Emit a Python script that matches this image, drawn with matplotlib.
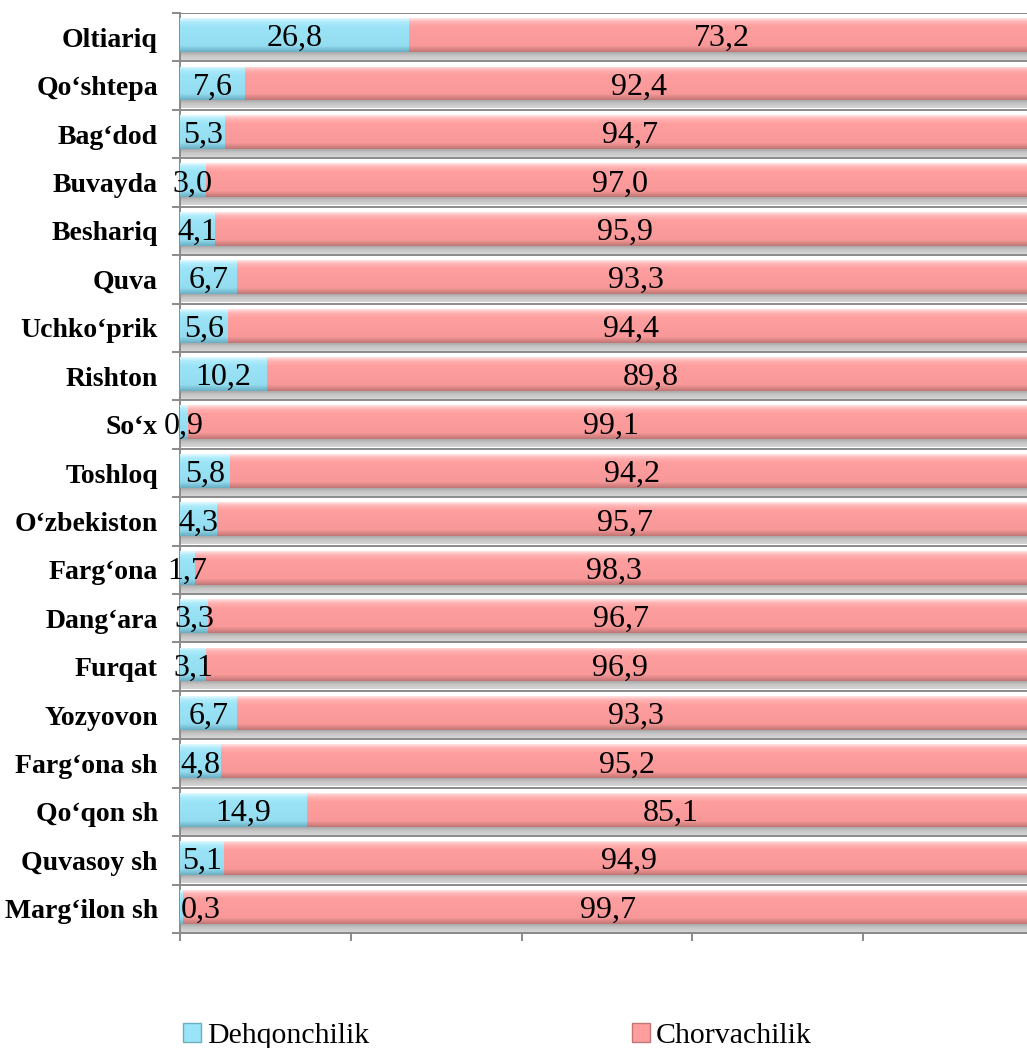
import matplotlib.pyplot as plt
import numpy as np
from matplotlib.colors import LinearSegmentedColormap
from matplotlib.patches import Patch

plt.rcParams['font.family'] = ['Liberation Serif', 'DejaVu Serif']

categories = ["Oltiariq", "Qo‘shtepa", "Bag‘dod", "Buvayda", "Beshariq", "Quva",
              "Uchko‘prik", "Rishton", "So‘x", "Toshloq", "O‘zbekiston", "Farg‘ona",
              "Dang‘ara", "Furqat", "Yozyovon", "Farg‘ona sh", "Qo‘qon sh",
              "Quvasoy sh", "Marg‘ilon sh"]
dehqon = [26.8, 7.6, 5.3, 3.0, 4.1, 6.7, 5.6, 10.2, 0.9, 5.8, 4.3, 1.7, 3.3, 3.1,
          6.7, 4.8, 14.9, 5.1, 0.3]
chorva = [73.2, 92.4, 94.7, 97.0, 95.9, 93.3, 94.4, 89.8, 99.1, 94.2, 95.7, 98.3,
          96.7, 96.9, 93.3, 95.2, 85.1, 94.9, 99.7]
series_names = ["Dehqonchilik", "Chorvachilik"]

blue = '#9be4f7'
red = '#ff9e9e'
grey = '#8a8a8a'

fig = plt.figure(figsize=(10.27, 10.48), dpi=100)
ax = fig.add_axes([180 / 1027, 1 - 933 / 1048, 854 / 1027, 920 / 1048])

n = len(categories)
y = np.arange(n)
bar_y = y - 0.045
h = 0.70

shadow = ax.barh(y + 0.388, [100] * n, height=0.165, color='#b8b8b8', lw=0, zorder=2)
b1 = ax.barh(bar_y, dehqon, height=h, color=blue, lw=0, zorder=3)
b2 = ax.barh(bar_y, chorva, left=dehqon, height=h, color=red, lw=0, zorder=3)


def shade(bars, stops):
    # fake the 3D bevel with a vertical gradient clipped to each bar
    cmap = LinearSegmentedColormap.from_list('g', stops)
    grad = np.linspace(0, 1, 64).reshape(-1, 1)
    for p in bars:
        x0, y0 = p.get_x(), p.get_y()
        w, hh = p.get_width(), p.get_height()
        im = ax.imshow(grad, cmap=cmap, extent=[x0, x0 + w, y0 + hh, y0],
                       aspect='auto', origin='upper', zorder=p.get_zorder() + 0.1,
                       interpolation='bilinear')
        im.set_clip_path(p)


shade(b1, [(0, '#e2f9ff'), (0.1, '#b0ecfb'), (0.25, blue), (0.82, '#94dcf0'), (1, '#6aaec2')])
shade(b2, [(0, '#ffe2e2'), (0.1, '#ffb4b4'), (0.25, red), (0.82, '#f89898'), (1, '#c07676')])
shade(shadow, [(0, '#a8a8a8'), (0.4, '#c4c4c4'), (1, '#d6d6d6')])

for i in range(n):
    d, c = dehqon[i], chorva[i]
    if d < 0.5:
        ax.text(0.1, y[i] + 0.03, f"{d:.1f}".replace('.', ','), ha='left', va='center',
                fontsize=23, zorder=5)
    else:
        ax.text(d / 2, y[i] + 0.03, f"{d:.1f}".replace('.', ','), ha='center', va='center',
                fontsize=23, zorder=5)
    ax.text(d + c / 2, y[i] + 0.03, f"{c:.1f}".replace('.', ','), ha='center', va='center',
            fontsize=23, zorder=5)

ax.set_xlim(0, 100)
ax.set_ylim(n - 0.5, -0.5)
ax.set_xticks(range(0, 101, 20))
ax.set_xticklabels([])
ax.set_yticks(y)
ax.set_yticklabels(categories, fontweight='bold', fontsize=20)
ax.set_yticks(np.arange(-0.5, n, 1), minor=True)
ax.tick_params(axis='y', which='major', length=0, pad=16)
ax.tick_params(axis='y', which='minor', length=6, width=1.4, color=grey)
ax.tick_params(axis='x', which='major', length=6, width=1.4, color=grey)
ax.grid(axis='y', which='minor', color=grey, lw=1.4)
ax.set_axisbelow(True)
for s in ['top', 'right']:
    ax.spines[s].set_visible(False)
for s in ['left', 'bottom']:
    ax.spines[s].set_color(grey)
    ax.spines[s].set_linewidth(1.4)

handles = [Patch(facecolor=blue, edgecolor='#6aaec2', label=series_names[0]),
           Patch(facecolor=red, edgecolor='#c07676', label=series_names[1])]
fig.legend(handles=handles, loc='center left', bbox_to_anchor=(183 / 1027, 1 - 1036 / 1048),
           ncol=2, frameon=False, fontsize=21.5, handlelength=0.6, handleheight=0.6,
           handletextpad=0.2, columnspacing=8.8, borderaxespad=0, borderpad=0)

fig.savefig('out.png', dpi=100)
